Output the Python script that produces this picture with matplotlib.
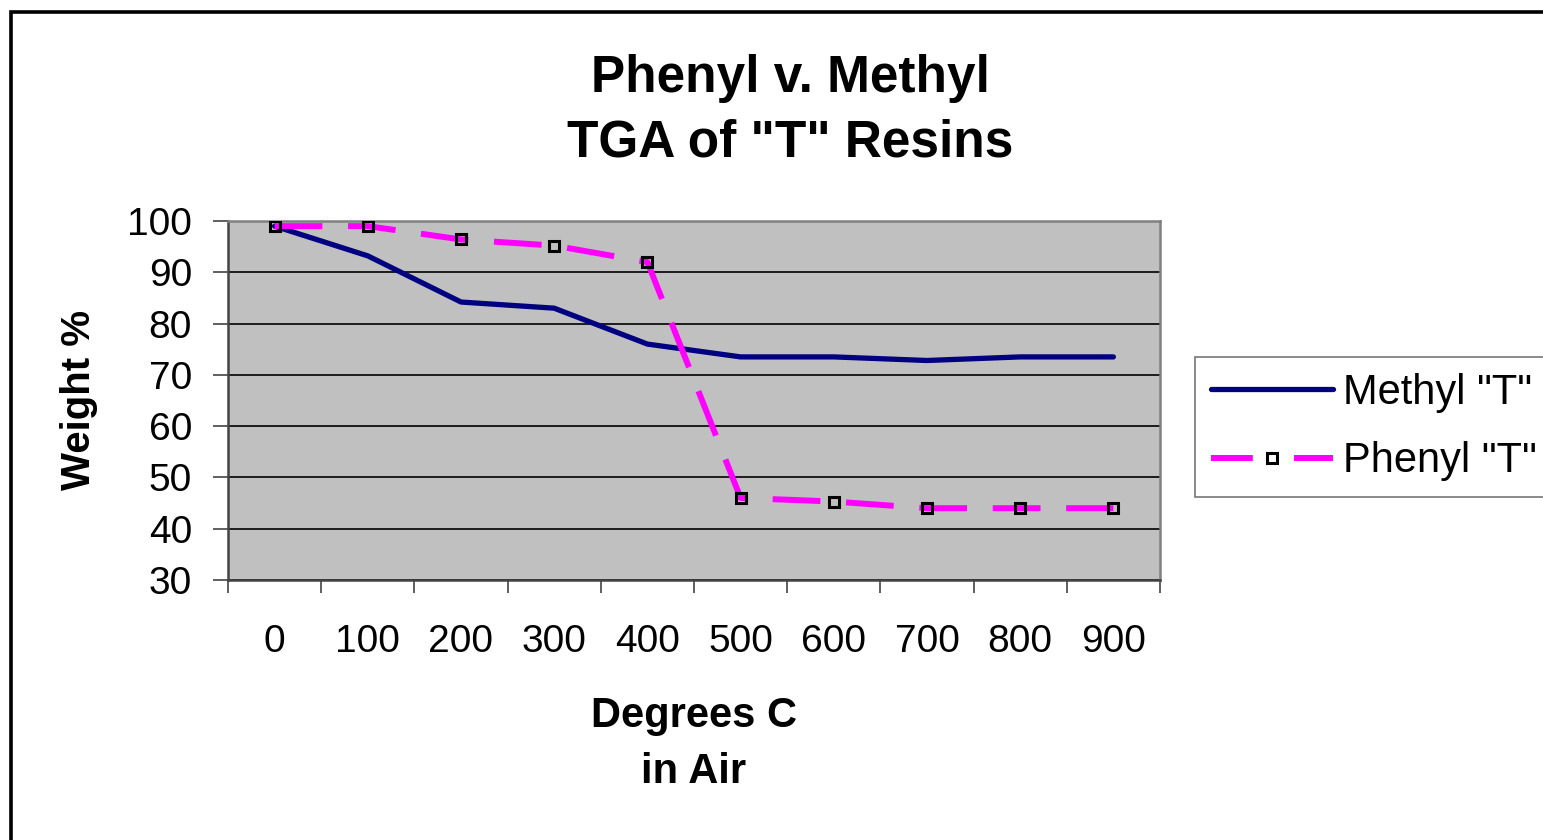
import numpy as np
import matplotlib.pyplot as plt
from matplotlib.patches import Rectangle
from matplotlib.lines import Line2D

# TGA data
temps = ["0", "100", "200", "300", "400", "500", "600", "700", "800", "900"]
methyl = [99, 93.2, 84.2, 83, 76, 73.5, 73.5, 72.8, 73.5, 73.5]
phenyl = [99, 99, 96.4, 95.2, 92, 46, 45.3, 44, 44, 44]

plt.rcParams['font.family'] = ['Liberation Sans', 'DejaVu Sans']

fig = plt.figure(figsize=(15.43, 8.40), dpi=100)
W, H = 1543, 840
ax = fig.add_axes([228 / W, 1 - 580 / H, (1160 - 228) / W, (580 - 221) / H])
ax.set_facecolor("#C0C0C0")

x = np.arange(len(temps))
ax.plot(x, methyl, color="#000080", lw=3.8, solid_capstyle="round", zorder=3)
ax.plot(x, phenyl, color="#FF00FF", lw=4.3, dashes=(8.0, 4.3),
        marker="s", ms=7.5, mfc="none", mec="black", mew=2.2, zorder=4)

ax.set_xlim(-0.5, len(temps) - 0.5)
ax.set_ylim(30, 100)
ax.set_yticks(np.arange(30, 101, 10))
ax.yaxis.grid(True, color="black", lw=1.2)
ax.set_axisbelow(True)

# category boundaries get the tick marks, centers get the labels
ax.set_xticks(np.arange(-0.5, len(temps)), minor=False)
ax.set_xticklabels([])
ax.set_xticks(x, minor=True)
ax.set_xticklabels(temps, minor=True)
ax.tick_params(axis="x", which="major", length=9.4, width=1.2, color="#444444")
ax.tick_params(axis="x", which="minor", length=0, pad=32, labelsize=28)
ax.tick_params(axis="y", length=11, width=1.2, color="#444444", labelsize=28, pad=15)

for s in ax.spines.values():
    s.set_color("#808080")
    s.set_linewidth(1.8)
ax.spines["left"].set_color("#444444")
ax.spines["bottom"].set_color("#444444")

fig.text(790 / W, 1 - 111 / H, 'Phenyl v. Methyl\nTGA of "T" Resins',
         ha="center", va="center", fontsize=37, fontweight="bold", linespacing=1.42)
fig.text(79 / W, 1 - 400 / H, "Weight %", rotation=90, ha="center", va="center",
         fontsize=29, fontweight="bold")
fig.text(694 / W, 1 - 744 / H, "Degrees C\nin Air", ha="center", va="center",
         fontsize=30, fontweight="bold", linespacing=1.52)

handles = [
    Line2D([], [], color="#000080", lw=3.8, solid_capstyle="round"),
    Line2D([], [], color="#FF00FF", lw=4.3, dashes=(7.0, 6.9),
           marker="s", ms=7, mfc="white", mec="black", mew=2.2),
]
leg = fig.legend(handles, ['Methyl "T"', 'Phenyl "T"'], loc="upper left",
                 bbox_to_anchor=(1195 / W, 1 - 357 / H),
                 fontsize=30, frameon=True, fancybox=False, handlelength=2.93,
                 handletextpad=0.24, borderpad=0.38, labelspacing=0.68,
                 borderaxespad=0)
leg.get_frame().set_edgecolor("#555555")
leg.get_frame().set_linewidth(1.2)

# outer chart border, running off the right and bottom edges
fig.patches.append(Rectangle((11 / W, -0.1), 1.2, 1 - 12 / H + 0.1,
                             transform=fig.transFigure, fill=False,
                             edgecolor="black", lw=2.6, clip_on=False))

fig.savefig("out.png", dpi=100)
